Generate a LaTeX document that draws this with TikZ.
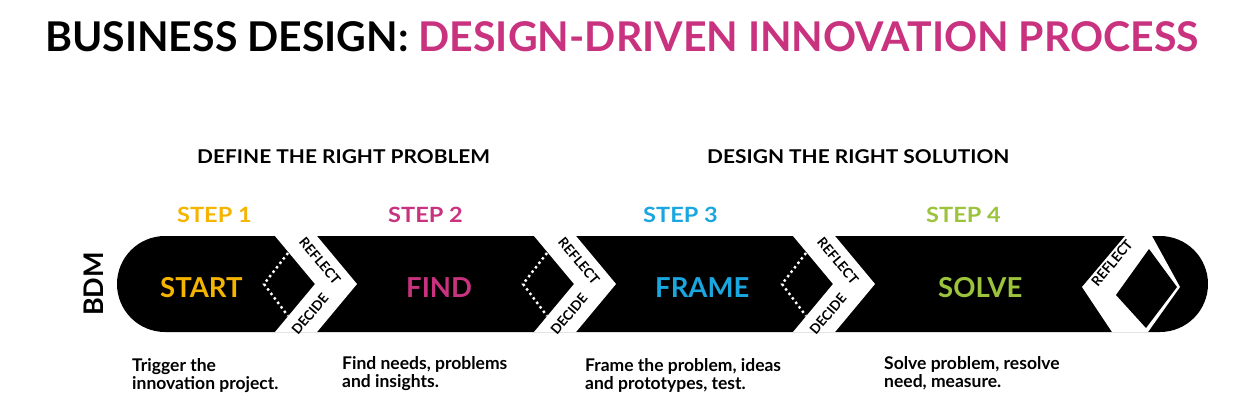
\documentclass[tikz,border=0pt]{standalone}
\usepackage{fontspec}
\setmainfont{Lato}
\definecolor{pinkc}{RGB}{200,50,126}
\definecolor{yellowc}{RGB}{245,180,0}
\definecolor{cyanc}{RGB}{26,166,223}
\definecolor{greenc}{RGB}{156,195,60}
\tikzset{
  chev/.style={fill=white},
  dotline/.style={draw=white,line width=2.4pt,dash pattern=on 2.4pt off 3.2pt},
  rtext/.style={font=\fontsize{13.5}{13.5}\selectfont\bfseries,inner sep=0pt,text=black},
  head/.style={font=\fontsize{19}{19}\selectfont\bfseries,inner sep=0pt,anchor=base west,xscale=1.1},
  steplbl/.style={font=\fontsize{21}{21}\selectfont\bfseries,inner sep=0pt,anchor=base west,xscale=1.12},
  phase/.style={font=\fontsize{27.5}{27.5}\selectfont\bfseries,inner sep=0pt,anchor=base west},
  desc/.style={font=\fontsize{17.5}{18.5}\selectfont\bfseries,inner sep=0pt,anchor=north west,align=left},
}
\begin{document}
\begin{tikzpicture}[x=1pt,y=-1pt]
\useasboundingbox (0,0) rectangle (1254,418);
% title
\node[inner sep=0pt,anchor=base west,font=\fontsize{41}{41}\selectfont\bfseries] (title) at (45,51)
  {BUSINESS DESIGN: \textcolor{pinkc}{DESIGN-DRIVEN INNOVATION PROCESS}};
% headers
\node[head] (h1) at (197,163) {DEFINE THE RIGHT PROBLEM};
\node[head] (h2) at (707,163) {DESIGN THE RIGHT SOLUTION};
% step labels
\node[steplbl,text=yellowc] (s1) at (177,222) {STEP 1};
\node[steplbl,text=pinkc] (s2) at (388,222) {STEP 2};
\node[steplbl,text=cyanc] (s3) at (643,222) {STEP 3};
\node[steplbl,text=greenc] (s4) at (926,222) {STEP 4};
% band
\fill[black,rounded corners=48pt] (117,236) rectangle (1208,332);
% chevrons
\foreach \x [count=\i] in {275,534,793}{
  \fill[chev] (\x,236) -- (\x+42,236) -- (\x+82,284) -- (\x+42,332) -- (\x,332) -- (\x+40,284) -- cycle;
  \draw[dotline] (\x+13,253) -- (\x-11,284) -- (\x+13,316);
  \node[rtext,rotate=-50] (r\i) at (\x+45,261) {REFLECT};
  \node[rtext,rotate=50] (d\i) at (\x+35,314) {DECIDE};
}
% final reflect
\fill[chev] (1125,236) -- (1082,287) -- (1112,332) -- (1148,332) -- (1180,287) -- (1152,236) -- cycle;
\fill[black] (1116,295) -- (1149,249) -- (1177,287) -- (1146,328) -- cycle;
\node[rtext,rotate=50] (r4) at (1112,263) {REFLECT};
% phase names
\node[phase,text=yellowc] (p1) at (160,297) {START};
\node[phase,text=pinkc] (p2) at (406,297) {FIND};
\node[phase,text=cyanc] (p3) at (655,297) {FRAME};
\node[phase,text=greenc] (p4) at (938,297) {SOLVE};
% BDM
\node[inner sep=0pt,rotate=90,font=\fontsize{27}{27}\selectfont\bfseries] (bdm) at (94,284) {BDM};
% descriptions
\node[desc] (t1) at (132,358) {Trigger the\\innovation project.};
\node[desc] (t2) at (342,356) {Find needs, problems\\and insights.};
\node[desc] (t3) at (585,358) {Frame the problem, ideas\\and prototypes, test.};
\node[desc] (t4) at (884,356) {Solve problem, resolve\\need, measure.};
\end{tikzpicture}
\end{document}
